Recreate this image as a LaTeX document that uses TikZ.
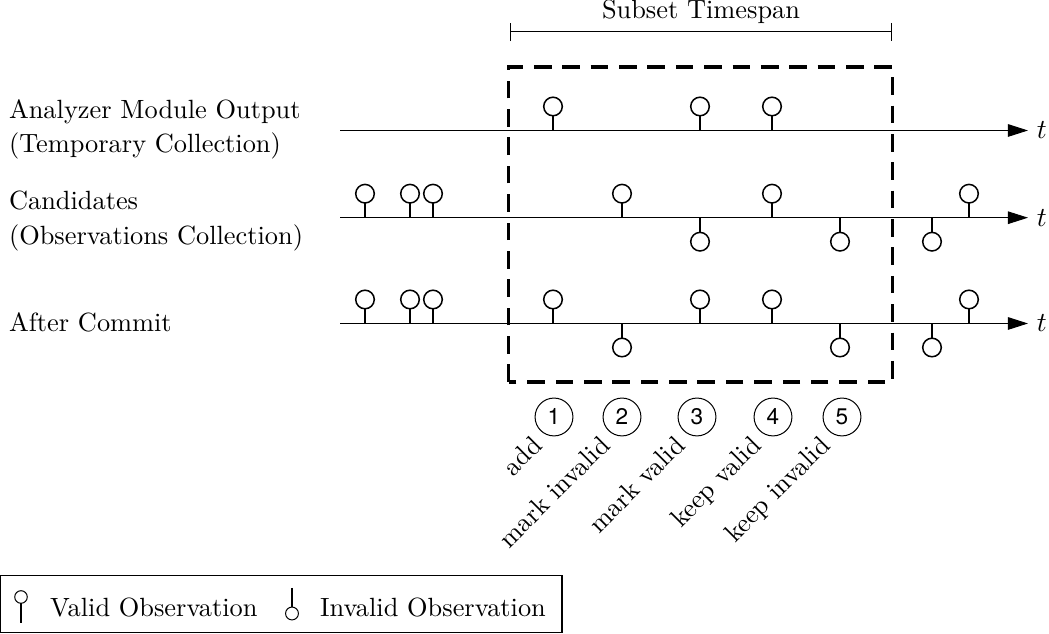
\documentclass[tikz,border=0pt]{standalone}
\usepackage{fontspec}
\newfontfamily\heros{TeX Gyre Heros}
\usepackage{tikz}
\usetikzlibrary{arrows.meta}
\usetikzlibrary{positioning}
\tikzset{
    rowlabel/.style = {anchor=base west, align=left, inner sep=0pt},
    stepnum/.style = {circle, draw=black, thin, inner sep=0pt, minimum size=0.53cm, font=\heros\fontsize{9}{10}\selectfont},
    steplabel/.style = {rotate=45, anchor=north east, inner sep=0pt},
    valid/.pic = {
        \draw[line width=1pt] (0,0) -- (0,0.21);
        \draw[semithick,fill=white] (0,0.336) circle (0.13);
    },
    invalid/.pic = {
        \draw[line width=1pt] (0,0) -- (0,-0.21);
        \draw[semithick,fill=white] (0,-0.336) circle (0.13);
    },
    legvalid/.pic = {
        \draw (0,0) -- (0,0.28);
        \draw (0,0.364) circle (0.088);
    },
    leginvalid/.pic = {
        \draw (0,0) -- (0,-0.27);
        \draw (0,-0.357) circle (0.09);
    }
}

\begin{document}
\begin{tikzpicture}[
	thin,
	font=\fontsize{10.5}{12.6}\selectfont
]
\tikzset{
    timeline/.style = {-{Triangle[length=8pt,width=5pt]}},
    span/.style = {{Bar[width=7.2pt]}-{Bar[width=7.2pt]}},
    subsetbox/.style = {line width=1.4pt, dash pattern=on 7pt off 4.3pt}
}
\useasboundingbox (0,0) rectangle (14.686,8.876);
%
% base of a two-line label is its last line
\node[rowlabel] (out) at (0.12,6.734) {Analyzer Module Output\\[1.2pt](Temporary Collection)};
\node[rowlabel] (cand) at (0.12,5.446) {Candidates\\[1.6pt](Observations Collection)};
\node[rowlabel] (comm) at (0.12,4.228) {After Commit};
%
\coordinate (r1s) at (4.76,7.049);
\coordinate (r1e) at (14.392,7.049);
\coordinate (r2s) at (4.76,5.828);
\coordinate (r2e) at (14.392,5.828);
\coordinate (r3s) at (4.76,4.347);
\coordinate (r3e) at (14.392,4.347);
\draw[timeline] (r1s) -- (r1e) node[right] {$t$};
\draw[timeline] (r2s) -- (r2e) node[right] {$t$};
\draw[timeline] (r3s) -- (r3e) node[right] {$t$};
%
\coordinate (ts) at (7.14,8.428);
\coordinate (te) at (12.488,8.428);
\draw[span] (ts) -- node[above] {Subset Timespan} (te);
%
% analyzer output
\pic at (7.742,7.049) {valid};
\pic at (9.8,7.049) {valid};
\pic at (10.808,7.049) {valid};
% candidates
\pic at (5.11,5.828) {valid};
\pic at (5.74,5.828) {valid};
\pic at (6.062,5.828) {valid};
\pic at (8.708,5.828) {valid};
\pic at (9.8,5.828) {invalid};
\pic at (10.808,5.828) {valid};
\pic at (11.76,5.828) {invalid};
\pic at (13.048,5.828) {invalid};
\pic at (13.566,5.828) {valid};
% after commit
\pic at (5.11,4.347) {valid};
\pic at (5.74,4.347) {valid};
\pic at (6.062,4.347) {valid};
\pic at (7.742,4.347) {valid};
\pic at (8.708,4.347) {invalid};
\pic at (9.8,4.347) {valid};
\pic at (10.808,4.347) {valid};
\pic at (11.76,4.347) {invalid};
\pic at (13.048,4.347) {invalid};
\pic at (13.566,4.347) {valid};
%
\draw[subsetbox] (7.12,3.528) rectangle (12.495,7.938);
%
\node[stepnum] (s1) at (7.756,3.038) {1};
\node[stepnum] (s2) at (8.708,3.038) {2};
\node[stepnum] (s3) at (9.758,3.038) {3};
\node[stepnum] (s4) at (10.822,3.038) {4};
\node[stepnum] (s5) at (11.788,3.038) {5};
\node[steplabel] at ([shift={(-0.33,-0.23)}]s1.center) {add};
\node[steplabel] at ([shift={(-0.33,-0.23)}]s2.center) {mark invalid};
\node[steplabel] at ([shift={(-0.33,-0.23)}]s3.center) {mark valid};
\node[steplabel] at ([shift={(-0.33,-0.23)}]s4.center) {keep valid};
\node[steplabel] at ([shift={(-0.33,-0.23)}]s5.center) {keep invalid};
%
% legend
\draw (0.01,0.014) rectangle (7.868,0.812);
\pic at (0.294,0.154) {legvalid};
\node[anchor=base west] (lv) at (0.577,0.238) {Valid Observation};
\pic at (4.088,0.644) {leginvalid};
\node[anchor=base west] (li) at (4.357,0.238) {Invalid Observation};
\end{tikzpicture}
\end{document}
